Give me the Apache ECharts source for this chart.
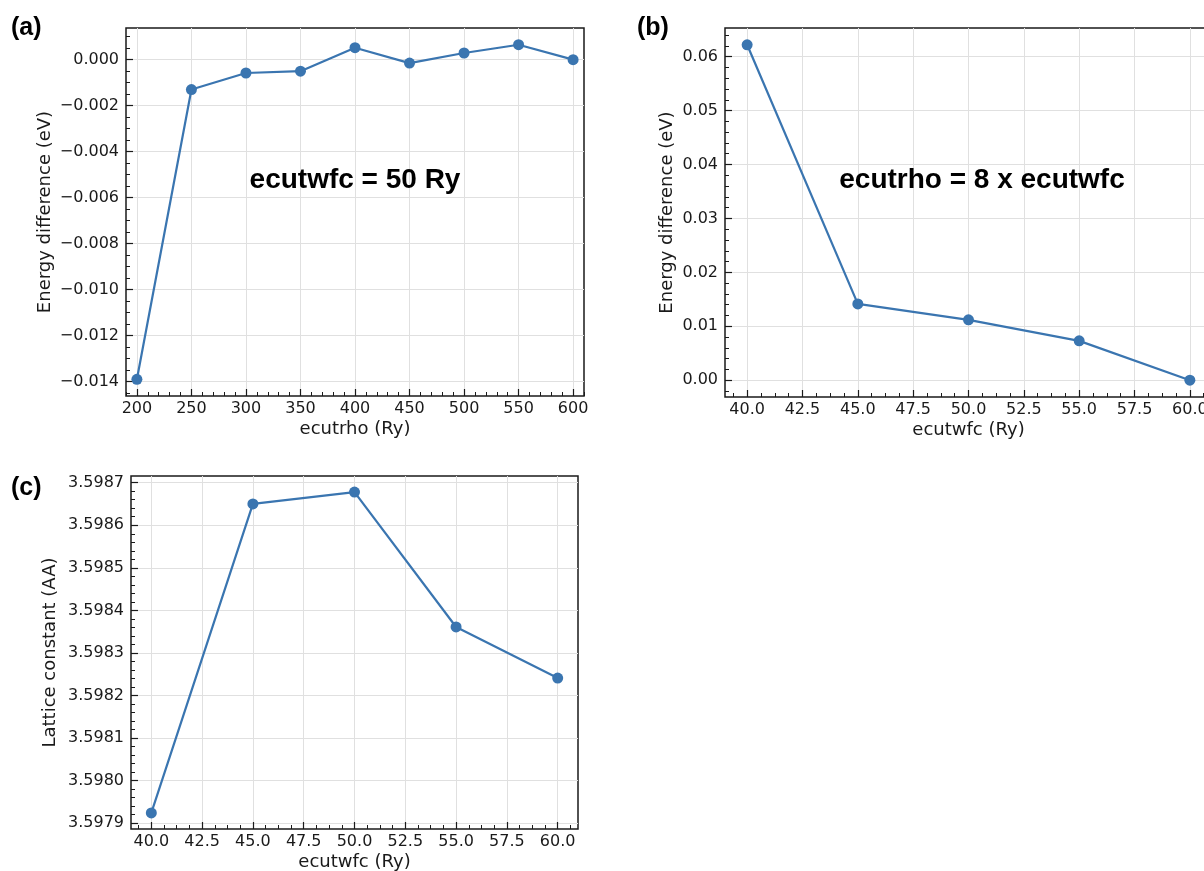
<!DOCTYPE html>
<html>
<head>
<meta charset="utf-8">
<script src="https://cdn.jsdelivr.net/npm/echarts@6/dist/echarts.min.js"></script>
<style>
html,body{margin:0;padding:0;background:#fff;}
#chart{width:1204px;height:871px;}
</style>
</head>
<body>
<div id="chart"></div>
<script>
// ---- data ----
const aX = [200, 250, 300, 350, 400, 450, 500, 550, 600];
const aY = [-0.0139, -0.0013, -0.00058, -0.0005, 0.00052, -0.00015, 0.00029, 0.00065, 0.0];
const bX = [40, 45, 50, 55, 60];
const bY = [0.0622, 0.01415, 0.0112, 0.0073, 0.0];
const cX = [40, 45, 50, 55, 60];
const cY = [3.597924, 3.59865, 3.598678, 3.598361, 3.598241];

// ---- tick labels ----
const aXTicks = [200, 250, 300, 350, 400, 450, 500, 550, 600];
const aYTicks = [-0.014, -0.012, -0.010, -0.008, -0.006, -0.004, -0.002, 0.000];
const bXTicks = [40, 42.5, 45, 47.5, 50, 52.5, 55, 57.5, 60];
const bYTicks = [0.00, 0.01, 0.02, 0.03, 0.04, 0.05, 0.06];
const cXTicks = [40, 42.5, 45, 47.5, 50, 52.5, 55, 57.5, 60];
const cYTicks = [3.5979, 3.5980, 3.5981, 3.5982, 3.5983, 3.5984, 3.5985, 3.5986, 3.5987];

const LINE = '#3a75b0';
const TXT = '#1a1a1a';
const FONT = 'DejaVu Sans';

function pad(arr, frac) {
  const mn = Math.min.apply(null, arr), mx = Math.max.apply(null, arr);
  const r = mx - mn;
  return [mn - r * frac, mx + r * frac];
}
function minors(ext, step) {
  const out = [];
  const k0 = Math.ceil(ext[0] / step - 1e-9), k1 = Math.floor(ext[1] / step + 1e-9);
  for (let k = k0; k <= k1; k++) out.push(+(k * step).toPrecision(12));
  return out;
}
const minus = s => s.replace('-', '\u2212');

function axisPair(dim, gridIndex, ext, majors, minorStep, fmt, name, nameGap) {
  const main = {
    type: 'value', gridIndex: gridIndex, min: ext[0], max: ext[1],
    name: name, nameLocation: 'middle', nameGap: nameGap,
    nameTextStyle: {fontFamily: FONT, fontSize: 18, color: TXT},
    axisLine: {show: false, onZero: false},
    axisTick: {show: true, inside: true, length: 7, customValues: majors,
      lineStyle: {color: TXT, width: 1.2}},
    axisLabel: {show: true, customValues: majors, formatter: fmt,
      fontFamily: FONT, fontSize: 16, color: TXT, margin: dim === 'x' ? 5 : 7},
    splitLine: {show: true, lineStyle: {color: '#e0e0e0', width: 1}},
    minorTick: {show: false}
  };
  const minor = {
    type: 'value', gridIndex: gridIndex, min: ext[0], max: ext[1],
    axisLine: {show: false, onZero: false},
    axisTick: {show: true, inside: true, length: 4, customValues: minors(ext, minorStep),
      lineStyle: {color: TXT, width: 1}},
    axisLabel: {show: false},
    splitLine: {show: false}
  };
  if (dim === 'x') { main.position = 'bottom'; minor.position = 'bottom'; }
  else { main.position = 'left'; minor.position = 'left'; }
  return [main, minor];
}

const aXExt = [190, 610];
const aYExt = pad(aY, 0.05);
const bXExt = pad(bX, 0.05);
const bYExt = pad(bY, 0.05);
const cXExt = pad(cX, 0.05);
const cYExt = pad(cY, 0.05);

const xa = axisPair('x', 0, aXExt, aXTicks, 10, v => String(Math.round(v)), 'ecutrho (Ry)', 24);
const ya = axisPair('y', 0, aYExt, aYTicks, 0.0005, v => minus(v.toFixed(3)), 'Energy difference (eV)', 72);
const xb = axisPair('x', 1, bXExt, bXTicks, 0.625, v => v.toFixed(1), 'ecutwfc (Ry)', 24);
const yb = axisPair('y', 1, bYExt, bYTicks, 0.002, v => v.toFixed(2), 'Energy difference (eV)', 49);
const xc = axisPair('x', 2, cXExt, cXTicks, 0.625, v => v.toFixed(1), 'ecutwfc (Ry)', 24);
const yc = axisPair('y', 2, cYExt, cYTicks, 0.00002, v => v.toFixed(4), 'Lattice constant (AA)', 72);

const gridStyle = {show: true, borderColor: TXT, borderWidth: 1.5, backgroundColor: 'transparent',
  containLabel: false, outerBoundsMode: 'none'};

function series(xs, ys, axIdx) {
  return {
    type: 'line', xAxisIndex: axIdx, yAxisIndex: axIdx,
    data: xs.map((x, i) => [x, ys[i]]),
    symbol: 'circle', symbolSize: 11,
    itemStyle: {color: LINE},
    lineStyle: {color: LINE, width: 2.2},
    z: 5, animation: false
  };
}

const chart = echarts.init(document.getElementById('chart'), null, {renderer: 'canvas'});
chart.setOption({
  backgroundColor: '#fff',
  animation: false,
  grid: [
    Object.assign({left: 126, top: 28, width: 458, height: 368}, gridStyle),
    Object.assign({left: 725, top: 28, width: 487, height: 369}, gridStyle),
    Object.assign({left: 131, top: 476, width: 447, height: 353}, gridStyle)
  ],
  xAxis: [xa[0], xb[0], xc[0], xa[1], xb[1], xc[1]],
  yAxis: [ya[0], yb[0], yc[0], ya[1], yb[1], yc[1]],
  series: [series(aX, aY, 0), series(bX, bY, 1), series(cX, cY, 2)],
  graphic: [
    {type: 'text', left: 11, top: 16, style: {text: '(a)', fontFamily: 'Liberation Sans', fontWeight: 'bold', fontSize: 25, fill: '#000'}},
    {type: 'text', left: 637, top: 16, style: {text: '(b)', fontFamily: 'Liberation Sans', fontWeight: 'bold', fontSize: 25, fill: '#000'}},
    {type: 'text', left: 11, top: 476, style: {text: '(c)', fontFamily: 'Liberation Sans', fontWeight: 'bold', fontSize: 25, fill: '#000'}},
    {type: 'text', x: 355, y: 180, style: {text: 'ecutwfc = 50 Ry', fontFamily: 'Liberation Sans', fontWeight: 'bold', fontSize: 28, fill: '#000', align: 'center', verticalAlign: 'middle'}, z: 10},
    {type: 'text', x: 982, y: 180, style: {text: 'ecutrho = 8 x ecutwfc', fontFamily: 'Liberation Sans', fontWeight: 'bold', fontSize: 28, fill: '#000', align: 'center', verticalAlign: 'middle'}, z: 10}
  ]
});
</script>
</body>
</html>
